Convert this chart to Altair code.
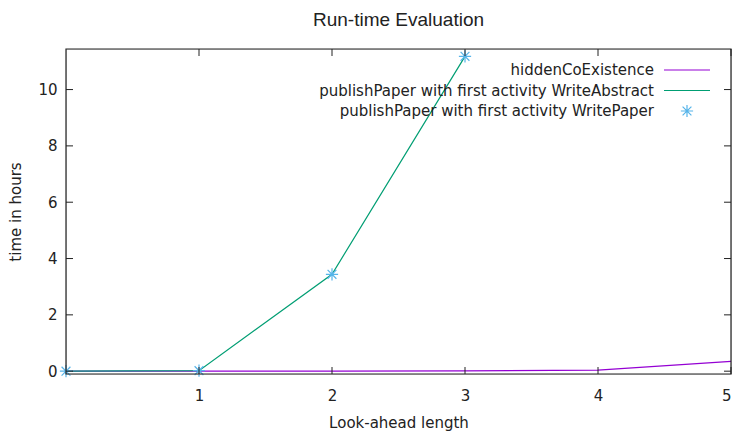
import altair as alt
import pandas as pd

# data
hidden_x = [0, 1, 2, 3, 4, 5]
hidden_y = [0.0, 0.0, 0.005, 0.01, 0.04, 0.35]
abstract_x = [0, 1, 2, 3]
abstract_y = [0.0, 0.02, 3.44, 11.18]
paper_x = [0, 1, 2, 3]
paper_y = [0.0, 0.02, 3.44, 11.18]

series_names = [
    "hiddenCoExistence",
    "publishPaper with first activity WriteAbstract",
    "publishPaper with first activity WritePaper",
]
colors = ["#9400d3", "#009e73", "#56b4e9"]

x_ticks = [1, 2, 3, 4, 5]
y_ticks = [0, 2, 4, 6, 8, 10]

W, H = 665, 325
FONT = "DejaVu Sans"
FS = 15

xs = alt.Scale(domain=[0, 5], nice=False, zero=False)
ys = alt.Scale(domain=[-0.1, 11.44], nice=False, zero=False)

df_h = pd.DataFrame({"x": hidden_x, "y": hidden_y})
df_a = pd.DataFrame({"x": abstract_x, "y": abstract_y})
df_p = pd.DataFrame({"x": paper_x, "y": paper_y})

bx = alt.X("x:Q", scale=xs, title="Look-ahead length",
           axis=alt.Axis(values=x_ticks, ticks=False, domain=False, grid=False,
                         labelPadding=14, titlePadding=12, labelFontSize=FS,
                         titleFontSize=FS, labelFont=FONT, titleFont=FONT,
                         titleFontWeight="normal", labelColor="#222", titleColor="#222"))
by = alt.Y("y:Q", scale=ys, title="time in hours",
           axis=alt.Axis(values=y_ticks, ticks=False, domain=False, grid=False,
                         labelPadding=9, titlePadding=14, labelFontSize=FS,
                         titleFontSize=FS, labelFont=FONT, titleFont=FONT,
                         titleFontWeight="normal", labelColor="#222", titleColor="#222"))
ny = alt.Y("y:Q", scale=ys, axis=None)

line_h = alt.Chart(df_h).mark_line(color=colors[0], strokeWidth=1.2).encode(x=bx, y=by)
line_a = alt.Chart(df_a).mark_line(color=colors[1], strokeWidth=1.2).encode(x=bx, y=ny)

star = "M-1,0L1,0M0,-1L0,1M-0.72,-0.72L0.72,0.72M-0.72,0.72L0.72,-0.72"
pts = alt.Chart(df_p).mark_point(shape=star, size=150, filled=False, color=colors[2],
                                 strokeWidth=1.2, opacity=1).encode(x=bx, y=ny)

# inward ticks (gnuplot style), mirrored
dfx = pd.DataFrame({"x": x_ticks})
dfy = pd.DataFrame({"y": y_ticks})
tick_color = "#222"
tx_b = alt.Chart(dfx).mark_rule(color=tick_color).encode(x=bx, y=alt.value(H), y2=alt.value(H - 7))
tx_t = alt.Chart(dfx).mark_rule(color=tick_color).encode(x=bx, y=alt.value(0), y2=alt.value(7))
ty_l = alt.Chart(dfy).mark_rule(color=tick_color).encode(y=ny, x=alt.value(0), x2=alt.value(7))
ty_r = alt.Chart(dfy).mark_rule(color=tick_color).encode(y=ny, x=alt.value(W), x2=alt.value(W - 7))

# plot frame
frame = alt.Chart(pd.DataFrame({"a": [0]})).mark_rect(fill=None, stroke="#222", strokeWidth=1.2).encode(
    x=alt.value(0), x2=alt.value(W), y=alt.value(0), y2=alt.value(H))

# legend (gnuplot style: label left, sample right)
leg = pd.DataFrame({"name": series_names, "row": [0, 1, 2]})
row_scale = alt.Scale(domain=[0, 2], range=[21, 62])
leg_text = alt.Chart(leg).mark_text(align="right", baseline="middle", font=FONT,
                                    fontSize=FS, color="#222").encode(
    y=alt.Y("row:Q", scale=row_scale, axis=None), x=alt.value(W - 77), text="name:N")
leg_lines = alt.Chart(leg[leg.row < 2]).mark_rule(strokeWidth=1.2).encode(
    y=alt.Y("row:Q", scale=row_scale, axis=None), x=alt.value(W - 67), x2=alt.value(W - 21),
    color=alt.Color("name:N", scale=alt.Scale(domain=series_names[:2], range=colors[:2]), legend=None))
leg_pt = alt.Chart(leg[leg.row == 2]).mark_point(shape=star, size=150, filled=False,
                                                 color=colors[2], strokeWidth=1.2, opacity=1).encode(
    y=alt.Y("row:Q", scale=row_scale, axis=None), x=alt.value(W - 44))

chart = alt.layer(
    line_h, line_a, pts, tx_b, tx_t, ty_l, ty_r, frame, leg_text, leg_lines, leg_pt
).resolve_scale(y="independent").properties(
    width=W, height=H,
    title=alt.TitleParams("Run-time Evaluation", font="Liberation Sans", fontSize=19,
                          fontWeight="normal", color="#222", anchor="middle", offset=18),
    autosize=alt.AutoSizeParams(type="none"),
    padding={"left": 58, "top": 41, "right": 5, "bottom": 59},
).configure_view(stroke=None).configure_axis(grid=False).configure(background="white")

chart.save("out.html", embed_options={"renderer": "svg", "actions": False})
